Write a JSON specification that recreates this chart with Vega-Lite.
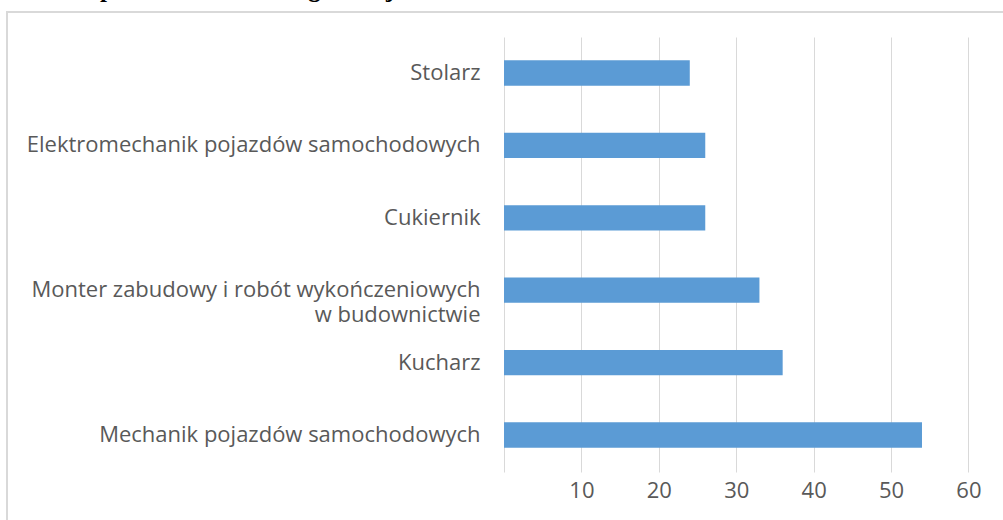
{
  "$schema": "https://vega.github.io/schema/vega-lite/v6.json",
  "autosize": "none",
  "padding": {"left": 7, "top": 12, "right": 0, "bottom": 0},
  "width": 1003,
  "height": 518,
  "background": "white",
  "title": {
    "text": "przez absolwentów gimnazjów",
    "anchor": "start",
    "frame": "group",
    "font": "Liberation Serif",
    "fontSize": 25,
    "fontWeight": "bold",
    "color": "#000000",
    "baseline": "alphabetic",
    "offset": 0,
    "dx": 93,
    "dy": 10
  },
  "config": {
    "view": {"stroke": "#d9d9d9", "strokeWidth": 2},
    "axis": {"labelFont": "Open Sans", "labelFontSize": 22, "labelColor": "#595959"}
  },
  "data": {
    "values": [
      {"zawod": "Stolarz", "liczba": 24},
      {"zawod": "Elektromechanik pojazdów samochodowych", "liczba": 26},
      {"zawod": "Cukiernik", "liczba": 26},
      {"zawod": "Monter zabudowy i robót wykończeniowych w budownictwie", "liczba": 33},
      {"zawod": "Kucharz", "liczba": 36},
      {"zawod": "Mechanik pojazdów samochodowych", "liczba": 54}
    ]
  },
  "mark": {"type": "bar", "color": "#5b9bd5"},
  "encoding": {
    "y": {
      "field": "zawod",
      "type": "nominal",
      "sort": null,
      "scale": {"range": [24.8, 459.2], "paddingInner": 0.65, "paddingOuter": 0.325},
      "axis": {
        "title": null,
        "orient": "left",
        "offset": -497,
        "domain": false,
        "ticks": false,
        "grid": false,
        "labelPadding": 24,
        "labelLimit": 600,
        "labelLineHeight": 25,
        "labelExpr": "indexof(datum.label, 'Monter') == 0 ? ['Monter zabudowy i robót wykończeniowych', 'w budownictwie'] : datum.label",
        "encode": {
          "labels": {
            "update": {
              "align": {"signal": "indexof(datum.value, 'Monter') == 0 ? 'center' : 'right'"},
              "dx": {"signal": "indexof(datum.value, 'Monter') == 0 ? -226 : 0"}
            }
          }
        }
      }
    },
    "x": {
      "field": "liczba",
      "type": "quantitative",
      "scale": {"domain": [-64.21, 65.37], "nice": false, "zero": false},
      "axis": {
        "title": null,
        "orient": "bottom",
        "offset": -58,
        "values": [0, 10, 20, 30, 40, 50, 60],
        "grid": false,
        "domain": false,
        "ticks": true,
        "tickSize": -435,
        "tickColor": "#d9d9d9",
        "tickWidth": 1,
        "labelPadding": 443,
        "labelExpr": "datum.value == 0 ? '' : datum.label"
      }
    }
  }
}
